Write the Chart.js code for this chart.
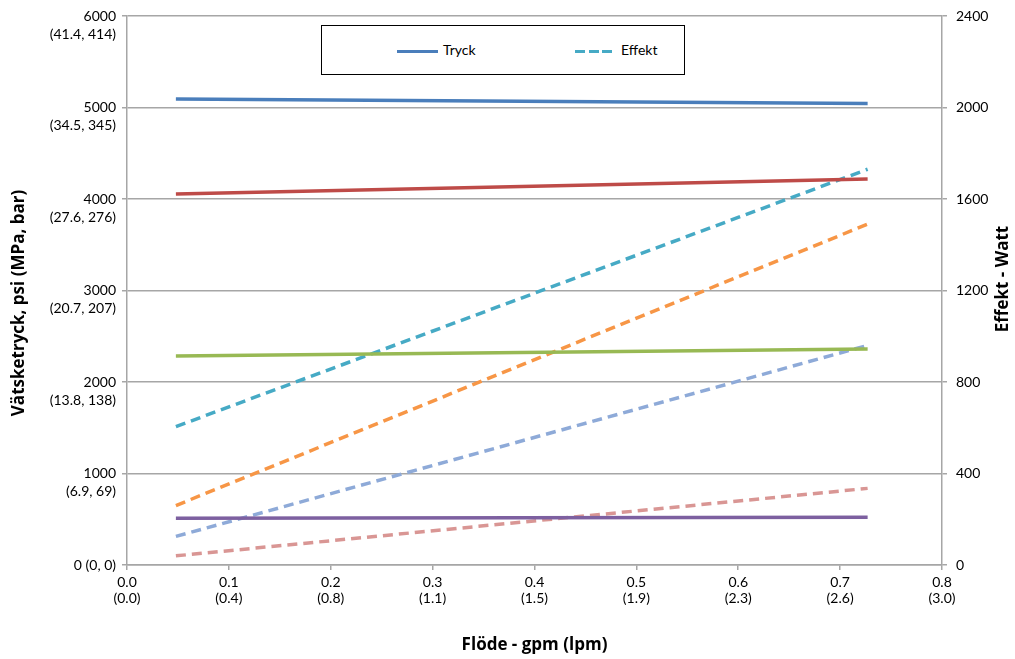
<!DOCTYPE html>
<html>
<head>
<meta charset="utf-8">
<script src="https://cdn.jsdelivr.net/npm/chart.js@4"></script>
<style>
  body { margin: 0; background: #ffffff; }
  #wrap { position: relative; width: 1015px; height: 659px; }
  #legendBox {
    position: absolute; left: 321px; top: 25px; width: 364px; height: 50px;
    border: 1px solid #000000; background: #ffffff; box-sizing: border-box;
    font-family: Lato, "Liberation Sans", sans-serif; font-size: 14px; color: #000;
  }
  .item { position: absolute; top: 15px; }
  .sample { display: inline-block; width: 41px; height: 3px; vertical-align: middle; margin-right: 5px; }
</style>
</head>
<body>
<div id="wrap">
  <canvas id="pumpChart"></canvas>
  <div id="legendBox">
    <div class="item" style="left:75px;"><span class="sample" style="background:#4a7ebb;"></span>Tryck</div>
    <div class="item" style="left:253px;"><span class="sample" style="width:37px;margin-right:9px;background:repeating-linear-gradient(to right, #46aac5 0px, #46aac5 10px, transparent 10px, transparent 13.5px);"></span>Effekt</div>
  </div>
</div>
<script>

// flow (gpm) at the two measured points
var flowPoints = [0.048, 0.727];

// pressure lines, psi (left axis)
var tryck1 = [5093, 5045];
var tryck2 = [4055, 4219];
var tryck3 = [2284, 2361];
var tryck4 = [510, 521];

// power lines, watt (right axis)
var effekt1 = [605, 1730];
var effekt2 = [260, 1490];
var effekt3 = [125, 960];
var effekt4 = [40, 335];

// tick labels
var xTickLabels = {
    '0': ['0.0', '(0.0)'], '0.1': ['0.1', '(0.4)'], '0.2': ['0.2', '(0.8)'], '0.3': ['0.3', '(1.1)'],
    '0.4': ['0.4', '(1.5)'], '0.5': ['0.5', '(1.9)'], '0.6': ['0.6', '(2.3)'], '0.7': ['0.7', '(2.6)'],
    '0.8': ['0.8', '(3.0)']
};
var yLeftTickLabels = {
    0: ['0 (0, 0)'],
    1000: ['', '1000', '(6.9, 69)'],
    2000: ['', '2000', '(13.8, 138)'],
    3000: ['', '3000', '(20.7, 207)'],
    4000: ['', '4000', '(27.6, 276)'],
    5000: ['', '5000', '(34.5, 345)'],
    6000: ['', '6000', '(41.4, 414)']
};

function toPoints(values) {
    return values.map(function (v, i) { return { x: flowPoints[i], y: v }; });
}

var gridColor = '#a6a6a6';
var fontFamily = 'Lato, "Liberation Sans", sans-serif';
var titleFamily = '"Open Sans", "DejaVu Sans", sans-serif';

function solid(values, color) {
    return { data: toPoints(values), borderColor: color, backgroundColor: color, borderWidth: 3.5,
        pointRadius: 0, yAxisID: 'y', borderCapStyle: 'butt' };
}
function dashed(values, color) {
    return { data: toPoints(values), borderColor: color, backgroundColor: color, borderWidth: 3.5,
        borderDash: [10, 6], pointRadius: 0, yAxisID: 'y2', borderCapStyle: 'butt' };
}

// both vertical axis titles read bottom-to-top, like Excel
var axisTitles = {
    id: 'axisTitles',
    afterDraw: function (c) {
        var ctx = c.ctx;
        ctx.save();
        ctx.font = 'bold 17px ' + titleFamily;
        ctx.fillStyle = '#000';
        ctx.textAlign = 'center';
        ctx.textBaseline = 'middle';
        [[19, 303, 'Vätsketryck, psi (MPa, bar)'], [1003, 279, 'Effekt - Watt']].forEach(function (t) {
            ctx.save();
            ctx.translate(t[0], t[1]);
            ctx.rotate(-Math.PI / 2);
            ctx.fillText(t[2], 0, 0);
            ctx.restore();
        });
        ctx.restore();
    }
};

var chart = new Chart(document.getElementById('pumpChart').getContext('2d'), {
    type: 'line',
    data: {
        datasets: [
            solid(tryck1, '#4a7ebb'),
            solid(tryck2, '#be4b48'),
            solid(tryck3, '#98b954'),
            solid(tryck4, '#7d60a0'),
            dashed(effekt1, '#46aac5'),
            dashed(effekt2, '#f79646'),
            dashed(effekt3, '#8eaad8'),
            dashed(effekt4, '#d99694')
        ]
    },
    options: {
        responsive: true,
        maintainAspectRatio: false,
        animation: false,
        layout: { padding: 0 },
        plugins: {
            legend: { display: false },
            tooltip: { enabled: false }
        },
        scales: {
            x: {
                type: 'linear',
                min: 0, max: 0.8,
                afterFit: function (scale) { scale.height = 94; scale.paddingLeft = 0; scale.paddingRight = 0; },
                border: { color: gridColor, width: 1.5 },
                grid: { drawOnChartArea: false, drawTicks: true, tickLength: 5, color: gridColor, lineWidth: 1.5 },
                ticks: {
                    stepSize: 0.1,
                    padding: 4,
                    maxRotation: 0,
                    color: '#000',
                    font: { family: fontFamily, size: 14, lineHeight: 1.15 },
                    callback: function (v) { return xTickLabels[String(Math.round(v * 10) / 10)]; }
                },
                title: {
                    display: true, text: 'Flöde - gpm (lpm)', color: '#000',
                    font: { family: titleFamily, size: 17, weight: 'bold' },
                    padding: { top: 0, bottom: 4 }
                }
            },
            y: {
                position: 'left',
                min: 0, max: 6000,
                afterFit: function (scale) { scale.width = 127; scale.paddingTop = 16; scale.paddingBottom = 0; },
                border: { color: gridColor, width: 1.5 },
                grid: { color: gridColor, lineWidth: 1.5, tickLength: 5 },
                ticks: {
                    stepSize: 1000,
                    padding: 6,
                    color: '#000',
                    font: { family: fontFamily, size: 14, lineHeight: 1.3 },
                    callback: function (v) { return yLeftTickLabels[v]; }
                }
            },
            y2: {
                position: 'right',
                min: 0, max: 2400,
                afterFit: function (scale) { scale.width = 73; scale.paddingTop = 16; scale.paddingBottom = 0; },
                border: { color: gridColor, width: 1.5 },
                grid: { drawOnChartArea: false, color: gridColor, lineWidth: 1.5, tickLength: 5 },
                ticks: {
                    stepSize: 400,
                    padding: 9,
                    color: '#000',
                    font: { family: fontFamily, size: 14 },
                    callback: function (v) { return String(v); }
                }
            }
        }
    },
    plugins: [axisTitles]
});
</script>
</body>
</html>
